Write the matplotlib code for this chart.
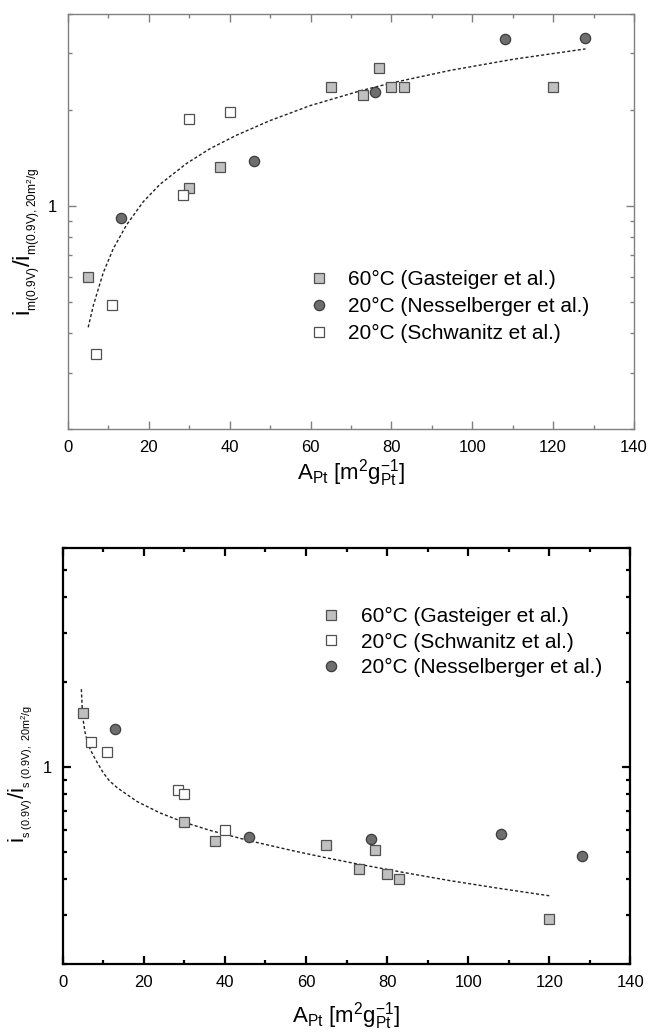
import matplotlib
matplotlib.use("Agg")
import matplotlib.pyplot as plt
import matplotlib.ticker as ticker

plt.rcParams["font.family"] = ["Liberation Sans", "DejaVu Sans"]
plt.rcParams["mathtext.fontset"] = "custom"
plt.rcParams["mathtext.rm"] = "Liberation Sans"
plt.rcParams["mathtext.it"] = "Liberation Sans:italic"

# --- mass activity (top) ---
gast_m_x = [5, 30, 37.5, 65, 73, 77, 80, 83, 120]
gast_m_y = [0.60, 1.14, 1.32, 2.35, 2.22, 2.71, 2.35, 2.35, 2.35]
ness_m_x = [13, 46, 76, 108, 128]
ness_m_y = [0.915, 1.38, 2.27, 3.33, 3.35]
schw_m_x = [7, 11, 28.5, 30, 40]
schw_m_y = [0.345, 0.49, 1.08, 1.87, 1.965]
fit_m_x = [5.0, 6.3, 8.7, 11.2, 14.5, 18.6, 22.8, 29.4, 35.1, 41.7, 50.0, 59.9,
           72.2, 80.0, 94.5, 110.0, 128.0]
fit_m_y = [0.417, 0.490, 0.617, 0.735, 0.873, 1.030, 1.170, 1.360, 1.510, 1.665,
           1.850, 2.060, 2.290, 2.425, 2.655, 2.875, 3.10]

# --- specific activity (bottom) ---
gast_s_x = [5, 30, 37.5, 65, 73, 77, 80, 83, 120]
gast_s_y = [1.55, 0.637, 0.546, 0.528, 0.436, 0.509, 0.418, 0.400, 0.290]
schw_s_x = [7, 11, 28.5, 30, 40]
schw_s_y = [1.23, 1.13, 0.828, 0.802, 0.600]
ness_s_x = [13, 46, 76, 108, 128]
ness_s_y = [1.36, 0.567, 0.556, 0.578, 0.486]
fit_s_x = [4.6, 4.85, 5.1, 5.5, 6.3, 7.0, 8.0, 9.0, 10.0, 11.5, 13.5, 18.3, 24.0,
           29.9, 36.3, 45.9, 56.9, 65.0, 73.3, 85.0, 95.5, 107.0, 120.0]
fit_s_y = [1.89, 1.56, 1.45, 1.33, 1.20, 1.14, 1.07, 1.01, 0.955, 0.895, 0.844,
           0.756, 0.688, 0.638, 0.597, 0.549, 0.505, 0.477, 0.452, 0.421, 0.396,
           0.373, 0.350]

GAST = dict(marker="s", ms=6.6, mfc="#c0c0c0", mec="#505050", mew=0.9, ls="none")
NESS = dict(marker="o", ms=7.4, mfc="#6e6e6e", mec="#3c3c3c", mew=0.9, ls="none")
SCHW = dict(marker="s", ms=6.6, mfc="white", mec="#505050", mew=0.9, ls="none")
FIT = dict(color="#202020", lw=1.0, ls=(0, (2.2, 1.6)))

XLABEL = r"$\mathregular{A_{Pt}\ [m^2g_{Pt}^{-1}]}$"
# double subscripts keep the index text small next to the large "i"
YLABEL_M = r"$\mathregular{i_{{}_{m(0.9V)}}/i_{{}_{m(0.9V),20m^2/g}}}$"
YLABEL_S = r"$\mathregular{i_{{}_{s\ (0.9V)}}/i_{{}_{s\ (0.9V),\ 20m^2/g}}}$"

LEGEND_KW = dict(loc="upper left", frameon=False, fontsize=15, handlelength=1.0,
                 handletextpad=0.9, borderpad=0, numpoints=1, borderaxespad=0)


def style_axes(ax, ylim, spine_color, spine_lw, xlabelpad):
    ax.set_xlim(0, 140)
    ax.set_yscale("log")
    ax.set_ylim(*ylim)
    ax.xaxis.set_major_locator(ticker.MultipleLocator(20))
    ax.xaxis.set_minor_locator(ticker.MultipleLocator(10))
    ax.yaxis.set_major_locator(ticker.FixedLocator([1]))
    ax.yaxis.set_major_formatter(ticker.FixedFormatter(["1"]))
    ax.yaxis.set_minor_locator(ticker.LogLocator(base=10, subs=range(2, 10)))
    ax.yaxis.set_minor_formatter(ticker.NullFormatter())
    for s in ax.spines.values():
        s.set_color(spine_color)
        s.set_linewidth(spine_lw)
    ax.tick_params(which="both", direction="in", top=True, right=True,
                   color=spine_color, width=spine_lw, labelsize=12, pad=8)
    ax.tick_params(which="major", length=6)
    ax.tick_params(which="minor", length=3)
    ax.set_xlabel(XLABEL, fontsize=16, labelpad=xlabelpad)


fig = plt.figure(figsize=(6.5, 10.32), dpi=100)

ax1 = fig.add_axes([0.1046, 0.584, 0.8708, 0.4029])
ax1.plot(fit_m_x, fit_m_y, **FIT)
ax1.plot(gast_m_x, gast_m_y, label="60°C (Gasteiger et al.)", **GAST)
ax1.plot(ness_m_x, ness_m_y, label="20°C (Nesselberger et al.)", **NESS)
ax1.plot(schw_m_x, schw_m_y, label="20°C (Schwanitz et al.)", **SCHW)
style_axes(ax1, (0.2, 4), "#808080", 1.0, 1)
ax1.set_ylabel(YLABEL_M, fontsize=17.5)
ax1.yaxis.set_label_coords(-0.044, 0.45)
ax1.legend(bbox_to_anchor=(0.425, 0.383), labelspacing=0.38, **LEGEND_KW)

ax2 = fig.add_axes([0.0965, 0.0656, 0.8732, 0.4037])
ax2.plot(fit_s_x, fit_s_y, **FIT)
ax2.plot(gast_s_x, gast_s_y, label="60°C (Gasteiger et al.)", **GAST)
ax2.plot(schw_s_x, schw_s_y, label="20°C (Schwanitz et al.)", **SCHW)
ax2.plot(ness_s_x, ness_s_y, label="20°C (Nesselberger et al.)", **NESS)
style_axes(ax2, (0.2, 6), "black", 1.6, 7)
ax2.set_ylabel(YLABEL_S, fontsize=16)
ax2.yaxis.set_label_coords(-0.05, 0.457)
ax2.legend(bbox_to_anchor=(0.455, 0.858), labelspacing=0.32, **LEGEND_KW)

fig.savefig("out.png", dpi=100)
